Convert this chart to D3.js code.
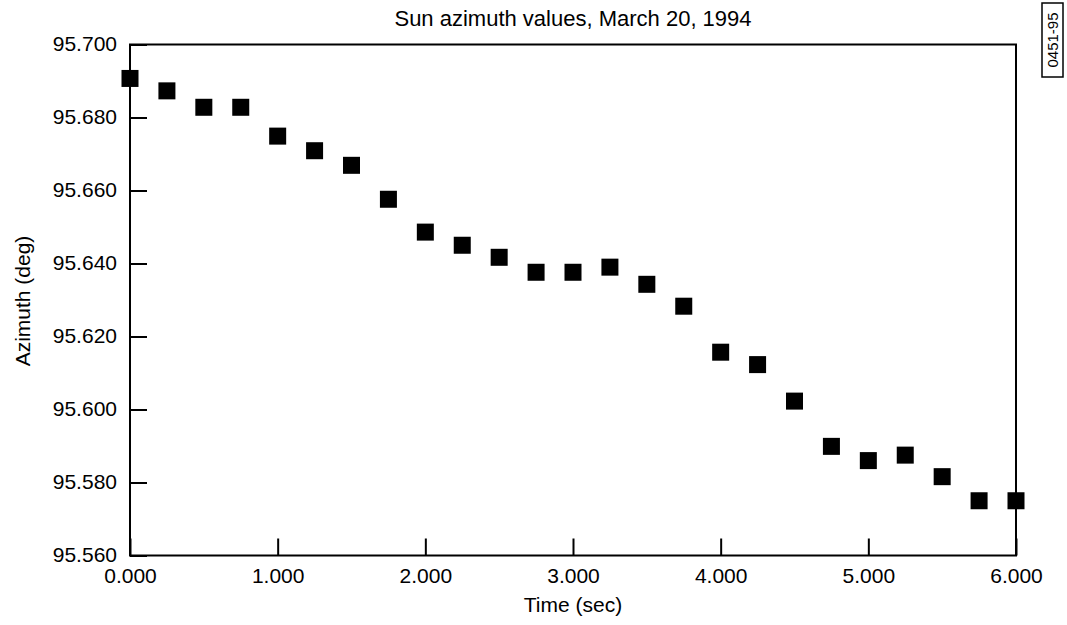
<!DOCTYPE html>
<html>
<head>
<meta charset="utf-8">
<script src="https://cdn.jsdelivr.net/npm/d3@7"></script>
<style>
  body { margin: 0; background: #fff; }
  svg { display: block; font-family: "Liberation Sans", Arial, sans-serif; }
</style>
</head>
<body>
<svg></svg>
<script>
// data
var times = [0.00, 0.25, 0.50, 0.75, 1.00, 1.25, 1.50, 1.75, 2.00, 2.25, 2.50, 2.75, 3.00,
             3.25, 3.50, 3.75, 4.00, 4.25, 4.50, 4.75, 5.00, 5.25, 5.50, 5.75, 6.00];
var azimuth = [95.6907, 95.6873, 95.6828, 95.6828, 95.6749, 95.6709, 95.6669, 95.6576, 95.6486,
               95.6450, 95.6417, 95.6376, 95.6376, 95.6390, 95.6343, 95.6283, 95.6157, 95.6123,
               95.6023, 95.5899, 95.5860, 95.5875, 95.5816, 95.5750, 95.5750];
var xTicks = [0, 1, 2, 3, 4, 5, 6];
var yTicks = [95.56, 95.58, 95.60, 95.62, 95.64, 95.66, 95.68, 95.70];
var title = "Sun azimuth values, March 20, 1994";
var xLabel = "Time (sec)";
var yLabel = "Azimuth (deg)";
var figId = "0451-95";

window.onload = function(){
    var W = 1067, H = 625;
    var left = 130, right = 1016, top = 44.5, bottom = 555.5;

    var svg = d3.select("svg")
        .attr("width", W)
        .attr("height", H);

    var x = d3.scaleLinear().domain([0, 6]).range([left, right]);
    var y = d3.scaleLinear().domain([95.56, 95.70]).range([bottom, top]);

    // y axis - ticks point inward
    var yAxis = d3.axisLeft(y)
        .tickValues(yTicks)
        .tickSize(-17)
        .tickPadding(30)
        .tickFormat(d3.format(".3f"));
    var gy = svg.append("g")
        .attr("transform", "translate(" + left + ",0)")
        .call(yAxis);
    gy.select(".domain").remove();
    gy.selectAll("line").attr("stroke", "#000").attr("stroke-width", 2);
    gy.selectAll("text")
        .attr("x", -13)
        .attr("dy", "0.28em")
        .style("font-size", "21px")
        .attr("fill", "#000");

    // x axis
    var xAxis = d3.axisBottom(x)
        .tickValues(xTicks)
        .tickSize(-17)
        .tickFormat(d3.format(".3f"));
    var gx = svg.append("g")
        .attr("transform", "translate(0," + bottom + ")")
        .call(xAxis);
    gx.select(".domain").remove();
    gx.selectAll("line").attr("stroke", "#000").attr("stroke-width", 2);
    gx.selectAll("text")
        .attr("y", 27)
        .attr("dy", 0)
        .style("font-size", "21px")
        .attr("fill", "#000");

    // frame
    svg.append("rect")
        .attr("x", left)
        .attr("y", top)
        .attr("width", right - left)
        .attr("height", bottom - top)
        .attr("fill", "none")
        .attr("stroke", "#000")
        .attr("stroke-width", 2);

    // squares
    var sz = 17;
    svg.selectAll("rect.pt")
        .data(times).enter()
        .append("rect")
        .attr("class", "pt")
        .attr("x", function(d){ return x(d) - sz / 2; })
        .attr("y", function(d, i){ return y(azimuth[i]) - sz / 2; })
        .attr("width", sz)
        .attr("height", sz)
        .attr("fill", "#000");

    // titles
    svg.append("text")
        .attr("x", (left + right) / 2)
        .attr("y", 26)
        .attr("text-anchor", "middle")
        .style("font-size", "22px")
        .text(title);

    svg.append("text")
        .attr("x", (left + right) / 2)
        .attr("y", 612)
        .attr("text-anchor", "middle")
        .style("font-size", "21px")
        .text(xLabel);

    svg.append("text")
        .attr("transform", "translate(30,301) rotate(-90)")
        .attr("text-anchor", "middle")
        .style("font-size", "21px")
        .text(yLabel);

    // figure id box on the right
    svg.append("rect")
        .attr("x", 1042)
        .attr("y", 3)
        .attr("width", 21)
        .attr("height", 74)
        .attr("fill", "none")
        .attr("stroke", "#000")
        .attr("stroke-width", 1.5);
    svg.append("text")
        .attr("transform", "translate(1058,40) rotate(-90)")
        .attr("text-anchor", "middle")
        .style("font-size", "15px")
        .text(figId);
};
</script>
</body>
</html>
